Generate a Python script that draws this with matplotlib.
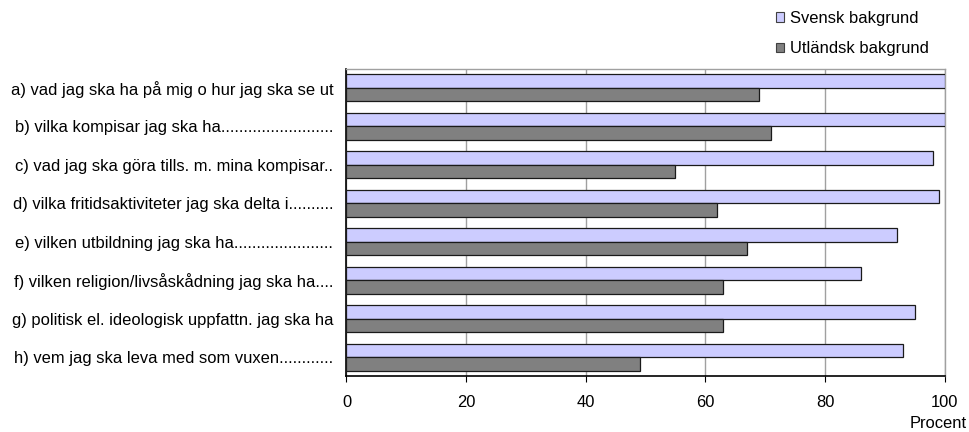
import numpy as np
import matplotlib.pyplot as plt
from matplotlib.patches import Patch

plt.rcParams['font.family'] = ['Liberation Sans', 'DejaVu Sans']

categories = [
    'a) vad jag ska ha på mig o hur jag ska se ut',
    'b) vilka kompisar jag ska ha.........................',
    'c) vad jag ska göra tills. m. mina kompisar..',
    'd) vilka fritidsaktiviteter jag ska delta i..........',
    'e) vilken utbildning jag ska ha......................',
    'f) vilken religion/livsåskådning jag ska ha....',
    'g) politisk el. ideologisk uppfattn. jag ska ha',
    'h) vem jag ska leva med som vuxen............',
]
svensk = [100, 100, 98, 99, 92, 86, 95, 93]
utlandsk = [69, 71, 55, 62, 67, 63, 63, 49]
series_names = ['Svensk bakgrund', 'Utländsk bakgrund']
xticks = [0, 20, 40, 60, 80, 100]

fs = 11.9

fig = plt.figure(figsize=(9.7, 4.32), dpi=100)
ax = fig.add_axes([0.3572, 0.1285, 0.9738 - 0.3572, 0.8414 - 0.1285])

y = np.arange(len(categories))
h = 0.35
ax.barh(y - h / 2, svensk, height=h, color='#CCCCFF', edgecolor='#1a1a1a', linewidth=0.9, zorder=3)
ax.barh(y + h / 2, utlandsk, height=h, color='#808080', edgecolor='#1a1a1a', linewidth=0.9, zorder=3)

ax.set_ylim(len(categories) - 0.5, -0.5)
ax.set_xlim(0, 100)
ax.set_yticks(y)
ax.set_yticklabels(categories, fontsize=fs)
ax.tick_params(axis='y', length=0, pad=9.5)
ax.set_xticks(xticks)
ax.set_xticklabels([str(t) for t in xticks], fontsize=fs)
ax.tick_params(axis='x', length=4, direction='out', pad=9, color='black')

ax.xaxis.grid(True, color='#A0A0A0', linewidth=1, zorder=0)
for s in ['left', 'bottom']:
    ax.spines[s].set_color('black')
    ax.spines[s].set_linewidth(1.2)
for s in ['top', 'right']:
    ax.spines[s].set_color('#A0A0A0')
    ax.spines[s].set_linewidth(1)

fig.text(967 / 970, 1 - 424 / 432, 'Procent', ha='right', va='center', fontsize=fs)

handles = [Patch(facecolor='#CCCCFF', edgecolor='#404040', linewidth=0.8),
           Patch(facecolor='#808080', edgecolor='#404040', linewidth=0.8)]
fig.legend(handles, series_names, loc='upper left', bbox_to_anchor=(776 / 970, 1 - 11 / 432),
           frameon=False, fontsize=fs, borderpad=0, borderaxespad=0,
           handlelength=0.5, handleheight=0.5, handletextpad=0.35, labelspacing=0.93)

fig.savefig('out.png', dpi=100)
